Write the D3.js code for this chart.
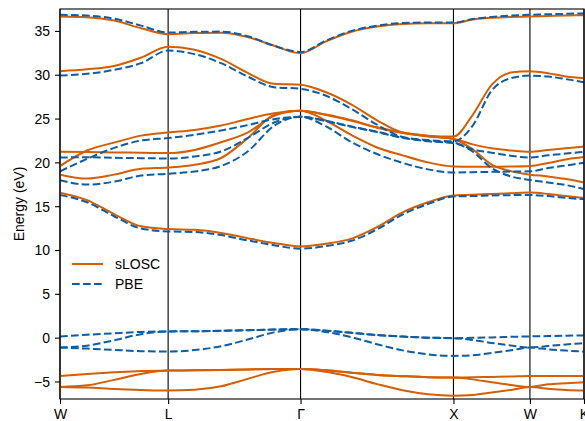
<!DOCTYPE html>
<html>
<head>
<meta charset="utf-8">
<script src="https://cdn.jsdelivr.net/npm/d3@7"></script>
<style>
  html, body { margin: 0; padding: 0; background: #fff; }
  svg { display: block; font-family: "Liberation Sans", Arial, Helvetica, sans-serif; }
</style>
</head>
<body>
<svg id="chart" width="585" height="421"></svg>
<script>
// High-symmetry path (distance along k-path) and labels
const kTicks = [0, 0.7071, 1.5731, 2.5731, 3.0731, 3.4267];
const kLabels = ["W", "L", "Γ", "X", "W", "K"];
// sample positions along the path at which band energies were read
const kGrid = [0, 0.1768, 0.3536, 0.5303, 0.7071,
  0.8803, 1.0535, 1.2267, 1.3999, 1.5731,
  1.7398, 1.9064, 2.0731, 2.2398, 2.4064, 2.5731,
  2.6981, 2.8231, 2.9481, 3.0731,
  3.1910, 3.3088, 3.4267];
const yTicks = [-5, 0, 5, 10, 15, 20, 25, 30, 35];
const seriesNames = ["sLOSC", "PBE"];

// sLOSC bands (eV)
const slosc_v1 = [-4.37, -4.14, -3.95, -3.8, -3.76, -3.73, -3.68, -3.63, -3.59, -3.57, -3.73, -4.0, -4.25, -4.4, -4.52, -4.56, -4.52, -4.48, -4.43, -4.37, -4.37, -4.37, -4.37];
const slosc_v2 = [-5.63, -5.44, -4.82, -4.14, -3.76, -3.73, -3.68, -3.63, -3.59, -3.57, -3.73, -4.0, -4.25, -4.4, -4.52, -4.56, -4.76, -5.1, -5.4, -5.63, -5.33, -5.2, -5.1];
const slosc_v3 = [-5.63, -5.7, -5.86, -5.97, -6.04, -5.95, -5.55, -4.7, -3.9, -3.57, -3.9, -4.5, -5.3, -6.0, -6.45, -6.62, -6.54, -6.27, -5.97, -5.63, -5.82, -5.97, -6.04];
const slosc_c1 = [16.55, 15.7, 14.1, 12.7, 12.39, 12.3, 11.95, 11.35, 10.8, 10.41, 10.72, 11.3, 12.6, 14.3, 15.45, 16.23, 16.3, 16.4, 16.48, 16.55, 16.4, 16.15, 15.93];
const slosc_c2 = [18.6, 18.15, 18.6, 19.28, 19.42, 19.73, 20.5, 22.75, 25.4, 25.88, 25.4, 24.75, 23.95, 23.35, 22.95, 22.65, 21.5, 19.75, 19.0, 18.6, 18.4, 18.1, 17.71];
const slosc_c3 = [19.58, 21.35, 22.25, 23.05, 23.41, 23.7, 24.2, 24.95, 25.6, 25.88, 24.75, 23.1, 21.7, 20.8, 20.0, 19.53, 19.5, 19.5, 19.52, 19.58, 19.92, 20.33, 20.6];
const slosc_c4 = [21.2, 21.17, 21.13, 21.1, 21.06, 21.42, 22.3, 23.4, 25.3, 25.88, 25.45, 24.8, 24.0, 23.4, 23.0, 22.7, 22.05, 21.6, 21.35, 21.2, 21.42, 21.62, 21.81];
const slosc_c5 = [30.41, 30.62, 31.0, 31.95, 33.18, 32.85, 31.8, 30.22, 28.96, 28.85, 28.0, 26.6, 24.8, 23.4, 23.05, 22.95, 25.4, 28.85, 30.25, 30.41, 30.18, 29.8, 29.6];
const slosc_c6 = [36.64, 36.56, 36.18, 35.3, 34.63, 34.75, 34.8, 34.3, 33.3, 32.46, 33.8, 34.9, 35.5, 35.8, 35.88, 35.88, 36.3, 36.5, 36.6, 36.64, 36.7, 36.75, 36.8];

// PBE bands (eV)
const pbe_v1 = [0.14, 0.33, 0.5, 0.65, 0.71, 0.73, 0.78, 0.85, 0.92, 0.97, 0.8, 0.55, 0.3, 0.12, 0.0, -0.06, -0.02, 0.03, 0.09, 0.14, 0.18, 0.22, 0.25];
const pbe_v2 = [-1.13, -0.92, -0.3, 0.4, 0.71, 0.73, 0.78, 0.85, 0.92, 0.97, 0.8, 0.55, 0.3, 0.12, 0.0, -0.06, -0.26, -0.6, -0.9, -1.13, -0.95, -0.78, -0.63];
const pbe_v3 = [-1.13, -1.25, -1.4, -1.54, -1.58, -1.42, -0.98, -0.22, 0.6, 0.97, 0.65, 0.05, -0.75, -1.45, -1.9, -2.08, -2.0, -1.75, -1.45, -1.13, -1.33, -1.48, -1.58];
const pbe_c1 = [16.27, 15.45, 13.85, 12.45, 12.12, 12.05, 11.7, 11.1, 10.55, 10.15, 10.45, 11.05, 12.35, 14.05, 15.25, 16.11, 16.15, 16.22, 16.26, 16.27, 16.15, 15.95, 15.8];
const pbe_c2 = [17.95, 17.47, 17.8, 18.5, 18.7, 18.97, 19.58, 21.24, 24.17, 25.2, 24.7, 24.05, 23.45, 22.8, 22.4, 22.2, 21.24, 19.35, 18.4, 18.0, 17.71, 17.41, 16.96];
const pbe_c3 = [18.98, 20.4, 21.65, 22.5, 22.77, 23.15, 23.64, 24.25, 24.93, 25.2, 24.1, 22.3, 20.95, 19.95, 19.2, 18.85, 18.88, 18.92, 18.96, 18.98, 19.35, 19.65, 19.95];
const pbe_c4 = [20.56, 20.58, 20.52, 20.48, 20.45, 20.67, 21.24, 22.77, 24.55, 25.2, 24.75, 24.1, 23.5, 22.85, 22.45, 22.25, 21.5, 21.1, 20.75, 20.56, 20.8, 21.0, 21.2];
const pbe_c5 = [29.9, 30.1, 30.56, 31.32, 32.76, 32.35, 31.32, 29.8, 28.58, 28.39, 27.6, 26.1, 24.3, 22.9, 22.55, 22.4, 24.17, 28.2, 29.6, 29.9, 29.8, 29.5, 29.15];
const pbe_c6 = [36.83, 36.75, 36.4, 35.6, 34.81, 34.9, 34.92, 34.4, 33.3, 32.6, 33.9, 35.0, 35.6, 35.9, 35.95, 35.95, 36.35, 36.6, 36.75, 36.83, 36.9, 36.95, 37.0];

const sloscBands = [slosc_v1, slosc_v2, slosc_v3, slosc_c1, slosc_c2, slosc_c3, slosc_c4, slosc_c5, slosc_c6];
const pbeBands = [pbe_v1, pbe_v2, pbe_v3, pbe_c1, pbe_c2, pbe_c3, pbe_c4, pbe_c5, pbe_c6];

const plot = { left: 60, right: 584, top: 9, bottom: 399 };
const colorSLOSC = "#D55E00";
const colorPBE = "#0C5DA5";
const font = '"Liberation Sans", Arial, Helvetica, sans-serif';

const svg = d3.select("#chart");
const x = d3.scaleLinear().domain([kTicks[0], kTicks[kTicks.length - 1]]).range([plot.left, plot.right]);
const y = d3.scaleLinear().domain([-7, 37.5]).range([plot.bottom, plot.top]);

svg.append("defs").append("clipPath").attr("id", "clip")
  .append("rect").attr("x", plot.left).attr("y", plot.top)
  .attr("width", plot.right - plot.left).attr("height", plot.bottom - plot.top);

// vertical high-symmetry lines
svg.append("g").selectAll("line").data(kTicks).join("line")
  .attr("x1", d => x(d)).attr("x2", d => x(d))
  .attr("y1", plot.top).attr("y2", plot.bottom)
  .attr("stroke", "#000").attr("stroke-width", 1.1);

const line = d3.line().x((d, i) => x(kGrid[i])).y(d => y(d)).curve(d3.curveMonotoneX);

const bands = svg.append("g").attr("clip-path", "url(#clip)");
bands.selectAll("path.slosc").data(sloscBands).join("path")
  .attr("class", "slosc").attr("d", line)
  .attr("fill", "none").attr("stroke", colorSLOSC).attr("stroke-width", 2);
bands.selectAll("path.pbe").data(pbeBands).join("path")
  .attr("class", "pbe").attr("d", line)
  .attr("fill", "none").attr("stroke", colorPBE).attr("stroke-width", 2)
  .attr("stroke-dasharray", "7.7,3.3");

// frame
svg.append("rect").attr("x", plot.left).attr("y", plot.top)
  .attr("width", plot.right - plot.left).attr("height", plot.bottom - plot.top)
  .attr("fill", "none").attr("stroke", "#000").attr("stroke-width", 1.1);

// y axis
const yAxis = svg.append("g").attr("transform", `translate(${plot.left},0)`)
  .call(d3.axisLeft(y).tickValues(yTicks).tickSize(5).tickPadding(5));
yAxis.select(".domain").remove();
yAxis.selectAll("line").attr("stroke", "#000").attr("stroke-width", 1.1);
yAxis.selectAll("text").attr("font-size", 14).attr("font-family", font).attr("fill", "#000").attr("dy", "0.35em");

// x axis
const xAxis = svg.append("g").attr("transform", `translate(0,${plot.bottom})`)
  .call(d3.axisBottom(x).tickValues(kTicks).tickFormat((d, i) => kLabels[i]).tickSize(5).tickPadding(5));
xAxis.select(".domain").remove();
xAxis.selectAll("line").attr("stroke", "#000").attr("stroke-width", 1.1);
xAxis.selectAll("text").attr("font-size", 14).attr("font-family", font).attr("fill", "#000")
  .attr("y", 19.5).attr("dy", null);

// y label
svg.append("text").attr("transform", "translate(24,204) rotate(-90)")
  .attr("text-anchor", "middle").attr("font-size", 14).attr("font-family", font)
  .text("Energy (eV)");

// legend
const legend = svg.append("g");
const legendItems = [
  { name: seriesNames[0], color: colorSLOSC, dash: null, y: 264 },
  { name: seriesNames[1], color: colorPBE, dash: "7.7,3.3", y: 284 }
];
legendItems.forEach(it => {
  legend.append("line").attr("x1", 72).attr("x2", 103).attr("y1", it.y).attr("y2", it.y)
    .attr("stroke", it.color).attr("stroke-width", 2).attr("stroke-dasharray", it.dash);
  legend.append("text").attr("x", 115).attr("y", it.y + 5)
    .attr("font-size", 14).attr("font-family", font).text(it.name);
});
</script>
</body>
</html>
